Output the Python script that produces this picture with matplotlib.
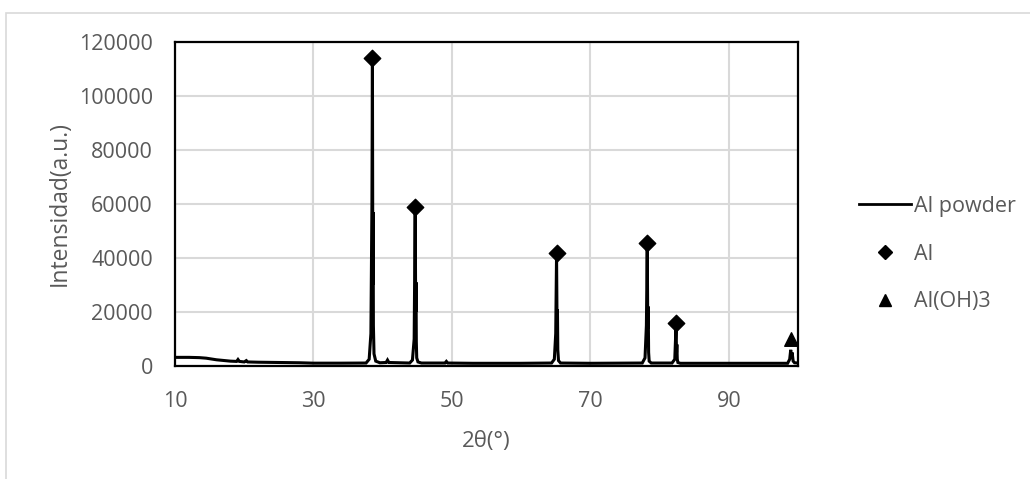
import matplotlib
matplotlib.use("Agg")
from matplotlib import pyplot as plt
from matplotlib.lines import Line2D
from matplotlib.patches import Rectangle

# XRD pattern, Al powder
two_theta = [10, 12, 13.5, 14.5, 16, 18, 18.9, 19.1, 19.3, 20, 20.3, 20.5, 22, 25, 28, 30,
             34, 37.6, 38.05, 38.3, 38.45, 38.52, 38.58, 38.62, 38.66, 38.75, 39.0, 39.6,
             40.5, 40.7, 40.9, 43.9, 44.3, 44.55, 44.7, 44.77, 44.82, 44.86, 44.92, 45.1, 45.6,
             49.0, 49.2, 49.4, 53, 60, 64.4, 64.8, 65.0, 65.12, 65.2, 65.25, 65.3, 65.4, 65.7,
             70, 77.5, 77.9, 78.1, 78.22, 78.3, 78.36, 78.42, 78.5, 78.8,
             81.8, 82.2, 82.38, 82.45, 82.5, 82.56, 82.65, 83.0,
             90, 98.5, 98.8, 98.95, 99.05, 99.15, 99.3, 99.5, 100]
intensity = [3200, 3200, 3100, 2900, 2300, 1800, 1700, 2400, 1700, 1500, 2000, 1500, 1400, 1300, 1200, 1050,
             1050, 1100, 2500, 12000, 60000, 112500, 30000, 57000, 15000, 4500, 1800, 1200,
             1300, 2200, 1300, 1100, 2200, 10000, 58000, 20000, 31000, 9000, 3000, 1500, 1100,
             1100, 1700, 1100, 1000, 1000, 1100, 2500, 12000, 41000, 12000, 21000, 6000, 2000, 1100,
             1000, 1100, 3000, 15000, 44500, 14000, 22000, 5000, 1800, 1100,
             1100, 2500, 15000, 5000, 8000, 2500, 1300, 1000,
             1000, 1000, 2500, 6000, 3000, 5000, 1800, 1200, 1100]

# phase markers
al_x = [38.52, 44.7, 65.12, 78.22, 82.38]
al_y = [114000, 59000, 42000, 45500, 16000]
aloh3_x = [99.0]
aloh3_y = [10000]

plt.rcParams['font.family'] = ['Open Sans', 'DejaVu Sans']
grey = '#595959'

fig = plt.figure(figsize=(10.30, 4.79), dpi=100)
fig.patches.append(Rectangle((6 / 1030, -0.1), 1.2, 1 - 13 / 479 + 0.1, transform=fig.transFigure,
                             fill=False, edgecolor='#d9d9d9', linewidth=1.2))
ax = fig.add_axes([175 / 1030, 1 - 366 / 479, (798 - 175) / 1030, (366 - 42) / 479])

ax.plot(two_theta, intensity, color='black', linewidth=2.2, solid_joinstyle='miter', zorder=3)
ax.scatter(al_x, al_y, marker='D', s=70, color='black', zorder=4, clip_on=False)
ax.scatter(aloh3_x, aloh3_y, marker='^', s=95, color='black', zorder=4, clip_on=False)

ax.set_xlim(10, 100)
ax.set_ylim(0, 120000)
ax.set_xticks([10, 30, 50, 70, 90])
ax.set_yticks(range(0, 120001, 20000))
ax.grid(True, color='#d9d9d9', linewidth=1.5)
ax.set_axisbelow(True)
ax.tick_params(length=0, labelsize=15.5, labelcolor=grey, pad=16)
ax.tick_params(axis='x', pad=18)
for s in ax.spines.values():
    s.set_linewidth(1.6)
    s.set_color('black')

ax.set_xlabel('2θ(°)', fontsize=16, color=grey, labelpad=14)
ax.set_ylabel('Intensidad(a.u.)', fontsize=16.5, color=grey, labelpad=5)

handles = [Line2D([], [], color='black', linewidth=2),
           Line2D([], [], color='black', marker='D', linestyle='none', markersize=7),
           Line2D([], [], color='black', marker='^', linestyle='none', markersize=9)]
leg = fig.legend(handles, ['Al powder', 'Al', 'Al(OH)3'], loc='center left',
                 bbox_to_anchor=(840 / 1030, 1 - 254 / 479), frameon=False, fontsize=15.5,
                 handlelength=2.4, handletextpad=0.15, labelspacing=1.25)
for t in leg.get_texts():
    t.set_color(grey)

fig.savefig('out.png', dpi=100)
